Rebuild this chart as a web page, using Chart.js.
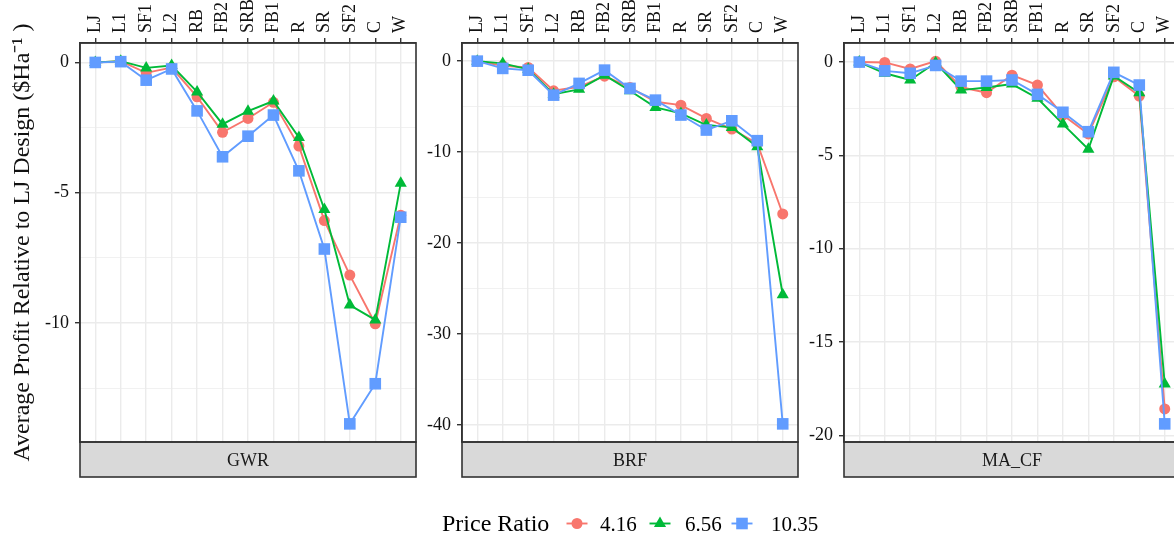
<!DOCTYPE html>
<html>
<head>
<meta charset="utf-8">
<script src="https://cdn.jsdelivr.net/npm/chart.js@4.4.1/dist/chart.umd.min.js"></script>
<style>
  html, body { margin: 0; padding: 0; width: 1174px; height: 535px; overflow: hidden; background: #ffffff; }
  #wrap { position: relative; width: 1174px; height: 535px; overflow: hidden; }
  canvas.panel { position: absolute; top: 0; }
  #keys { position: absolute; left: 0; top: 500px; }
  .lg { position: absolute; font-family: "Liberation Serif", "Times New Roman", serif; color: #000; white-space: nowrap; }
</style>
</head>
<body>
<div id="wrap">
  <canvas id="p1" class="panel" width="420" height="535" style="left:0px"></canvas>
  <canvas id="p2" class="panel" width="380" height="535" style="left:420px"></canvas>
  <canvas id="p3" class="panel" width="384" height="535" style="left:800px"></canvas>
  <canvas id="keys" width="1174" height="35"></canvas>
  <span class="lg" style="left:442px; top:511px; font-size:24px; line-height:24px;">Price Ratio</span>
  <span class="lg" style="left:600px; top:514px; font-size:21px; line-height:21px;">4.16</span>
  <span class="lg" style="left:685px; top:514px; font-size:21px; line-height:21px;">6.56</span>
  <span class="lg" style="left:771px; top:514px; font-size:21px; line-height:21px;">10.35</span>
</div>
<script>
// Design categories along the top axis
const designs = ['LJ', 'L1', 'SF1', 'L2', 'RB', 'FB2', 'SRB', 'FB1', 'R', 'SR', 'SF2', 'C', 'W'];
const priceRatios = ['4.16', '6.56', '10.35'];
const seriesColors = ['#F8766D', '#00BA38', '#619CFF'];
const seriesShapes = ['circle', 'triangle', 'rect'];

// Average profit relative to the LJ design ($/ha), one array per price ratio
const gwr_416  = [0, 0.05, -0.40, -0.20, -1.32, -2.68, -2.15, -1.53, -3.21, -6.07, -8.16, -10.03, -5.86];
const gwr_656  = [0, 0.05, -0.21, -0.12, -1.13, -2.37, -1.87, -1.48, -2.88, -5.64, -9.31, -9.88, -4.64];
const gwr_1035 = [0, 0.03, -0.68, -0.25, -1.86, -3.62, -2.83, -2.02, -4.16, -7.16, -13.87, -12.33, -5.94];

const brf_416  = [0, -0.50, -0.70, -3.26, -2.82, -1.65, -2.89, -4.47, -4.84, -6.30, -7.47, -9.05, -16.81];
const brf_656  = [0, -0.25, -0.90, -3.63, -3.10, -1.54, -3.26, -5.09, -5.75, -7.03, -7.29, -9.42, -25.70];
const brf_1035 = [0, -0.80, -1.00, -3.74, -2.45, -0.99, -3.00, -4.29, -5.93, -7.58, -6.56, -8.75, -39.90];

const macf_416  = [0, -0.02, -0.37, 0.05, -1.35, -1.64, -0.70, -1.23, -2.84, -3.85, -0.79, -1.82, -18.58];
const macf_656  = [0, -0.60, -0.96, -0.04, -1.50, -1.36, -1.18, -1.94, -3.32, -4.67, -0.75, -1.64, -17.24];
const macf_1035 = [0, -0.47, -0.60, -0.18, -1.02, -1.02, -0.96, -1.73, -2.69, -3.73, -0.55, -1.23, -19.38];

const panelNames = ['GWR', 'BRF', 'MA_CF'];
const panelSeries = [
  [gwr_416, gwr_656, gwr_1035],
  [brf_416, brf_656, brf_1035],
  [macf_416, macf_656, macf_1035]
];
const majorSteps = [5, 10, 5];

const yTitle = 'Average Profit Relative to LJ Design ($Ha\u207B\u00B9 )';

Chart.defaults.font.family = '"Liberation Serif", "Times New Roman", serif';
Chart.defaults.color = '#111111';

const markerRadius = [5.5, 7, 8.2];
const lineWidth = 1.9;

// Panel border plus the facet strip underneath the plotting area
const panelFrame = {
  id: 'panelFrame',
  afterDraw(chart, args, opts) {
    const { ctx, chartArea: a } = chart;
    const w = a.right - a.left;
    ctx.save();
    ctx.fillStyle = '#D9D9D9';
    ctx.fillRect(a.left, a.bottom, w, opts.stripHeight);
    ctx.strokeStyle = '#333333';
    ctx.lineWidth = 1.6;
    ctx.strokeRect(a.left, a.bottom, w, opts.stripHeight);
    ctx.strokeRect(a.left, a.top, w, a.bottom - a.top);
    ctx.fillStyle = '#1A1A1A';
    ctx.font = '18px "Liberation Serif", "Times New Roman", serif';
    ctx.textAlign = 'center';
    ctx.textBaseline = 'middle';
    ctx.fillText(opts.label, (a.left + a.right) / 2, a.bottom + opts.stripHeight / 2 + 1.5);
    ctx.restore();
  }
};

function buildPanel(canvasId, p, yAxisWidth, padRight, showTitle) {
  const series = panelSeries[p];
  const major = majorSteps[p];
  const all = series.flat();
  const lo = Math.min(...all), hi = Math.max(...all);
  const pad = (hi - lo) * 0.05;

  const datasets = series.map((vals, i) => ({
    label: priceRatios[i],
    data: vals.map((v, k) => ({ x: k, y: v })),
    borderColor: seriesColors[i],
    backgroundColor: seriesColors[i],
    borderWidth: lineWidth,
    pointStyle: seriesShapes[i],
    pointRadius: markerRadius[i],
    pointBorderWidth: 0,
    pointHoverRadius: markerRadius[i],
    tension: 0,
    order: 3 - i
  }));

  const isMajor = v => Math.abs(v % major) < 1e-9;

  return new Chart(document.getElementById(canvasId), {
    type: 'line',
    data: { datasets },
    plugins: [panelFrame],
    options: {
      responsive: false,
      animation: false,
      events: [],
      layout: { autoPadding: false, padding: { left: 0, top: 0, right: padRight, bottom: 93 } },
      plugins: {
        legend: { display: false },
        tooltip: { enabled: false },
        panelFrame: { label: panelNames[p], stripHeight: 35 }
      },
      scales: {
        x: {
          type: 'linear',
          position: 'top',
          min: -0.6,
          max: designs.length - 1 + 0.6,
          afterFit: s => { s.height = 43; },
          border: { display: true, color: '#333333', width: 1.6 },
          grid: { color: '#EBEBEB', lineWidth: 1.4, tickColor: '#333333', tickLength: 5, offset: false },
          ticks: {
            stepSize: 1,
            includeBounds: false,
            autoSkip: false,
            maxTicksLimit: 50,
            minRotation: 90,
            maxRotation: 90,
            padding: 5,
            labelOffset: 21.6,
            color: '#111111',
            font: { size: 18 },
            callback: v => designs[v] ?? ''
          }
        },
        y: {
          type: 'linear',
          position: 'left',
          min: lo - pad,
          max: hi + pad,
          afterFit: s => { s.width = yAxisWidth; },
          border: { display: true, color: '#333333', width: 1.6 },
          grid: {
            color: '#EBEBEB',
            lineWidth: c => (c.tick && isMajor(c.tick.value)) ? 1.4 : 0.7,
            tickColor: c => (c.tick && isMajor(c.tick.value)) ? '#333333' : 'rgba(0,0,0,0)',
            tickLength: 5
          },
          ticks: {
            stepSize: major / 2,
            includeBounds: false,
            maxTicksLimit: 50,
            padding: 6,
            color: '#111111',
            font: { size: 18 },
            callback: v => isMajor(v) ? String(v) : ''
          },
          title: {
            display: showTitle,
            text: yTitle,
            color: '#111111',
            font: { size: 24 },
            padding: { top: 8, bottom: 0 }
          }
        }
      }
    }
  });
}

buildPanel('p1', 0, 80, 4, true);
buildPanel('p2', 1, 42, 2, false);
buildPanel('p3', 2, 44, 4, false);

// Legend keys: a short line through each series marker
(function drawKeys() {
  const c = document.getElementById('keys');
  const ctx = c.getContext('2d');
  const centers = [577, 660, 742];
  const cy = 23.5;
  centers.forEach((cx, i) => {
    ctx.strokeStyle = seriesColors[i];
    ctx.fillStyle = seriesColors[i];
    ctx.lineWidth = lineWidth;
    ctx.beginPath();
    ctx.moveTo(cx - 10.5, cy);
    ctx.lineTo(cx + 10.5, cy);
    ctx.stroke();
    ctx.beginPath();
    const r = markerRadius[i];
    if (seriesShapes[i] === 'circle') {
      ctx.arc(cx, cy, r, 0, Math.PI * 2);
    } else if (seriesShapes[i] === 'triangle') {
      ctx.moveTo(cx, cy - r);
      ctx.lineTo(cx + r * Math.sin(2 * Math.PI / 3), cy + r * 0.5);
      ctx.lineTo(cx - r * Math.sin(2 * Math.PI / 3), cy + r * 0.5);
      ctx.closePath();
    } else {
      const h = r * Math.SQRT1_2;
      ctx.rect(cx - h, cy - h, 2 * h, 2 * h);
    }
    ctx.fill();
  });
})();
</script>
</body>
</html>
